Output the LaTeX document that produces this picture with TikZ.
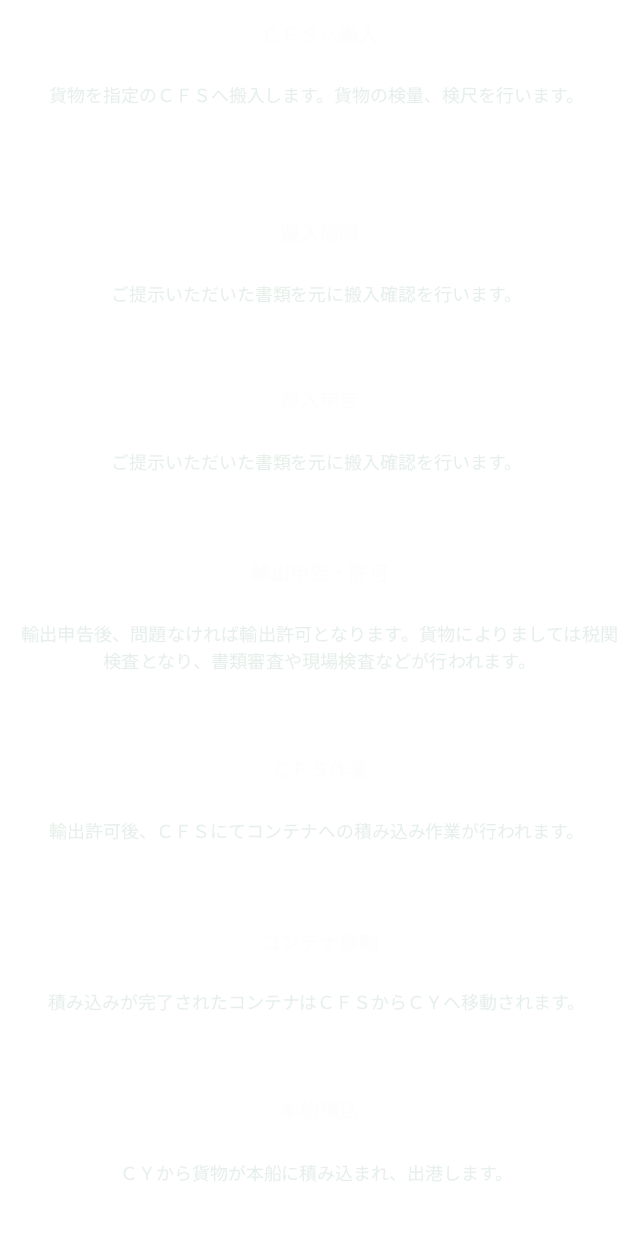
\documentclass[tikz,border=0pt]{standalone}
\usepackage{fontspec}
\newfontfamily\jp{Noto Sans CJK JP}
\definecolor{headc}{RGB}{252,253,252}
\definecolor{bodyc}{RGB}{230,239,234}
\begin{document}
\begin{tikzpicture}[x=0.75pt,y=-0.75pt,
  head/.style={text=headc,font=\jp\fontsize{14.7}{18}\selectfont,inner sep=0pt,anchor=center},
  body/.style={text=bodyc,font=\jp\fontsize{13.45}{20.25}\selectfont,inner sep=0pt,anchor=center,align=center}]
\fill[white] (0,0) rectangle (640,1239);
\useasboundingbox (0,0) rectangle (640,1239);
\node[head] (h1) at (320,35) {ＣＦＳへ搬入};
\node[body] (b1) at (317,96) {貨物を指定のＣＦＳへ搬入します。貨物の検量、検尺を行います。};
\node[head] (h2) at (320,233) {搬入確認};
\node[body] (b2) at (317,295) {ご提示いただいた書類を元に搬入確認を行います。};
\node[head] (h3) at (320,400) {搬入申告};
\node[body] (b3) at (317,463) {ご提示いただいた書類を元に搬入確認を行います。};
\node[head] (h4) at (320,573) {輸出申告・許可};
\node[body,font=\jp\fontsize{13.65}{20.25}\selectfont] (b4) at (320,648) {輸出申告後、問題なければ輸出許可となります。貨物によりましては税関\\検査となり、書類審査や現場検査などが行われます。};
\node[head] (h5) at (320,770) {ＣＦＳ作業};
\node[body] (b5) at (317,832) {輸出許可後、ＣＦＳにてコンテナへの積み込み作業が行われます。};
\node[head] (h6) at (320,943) {コンテナ移動};
\node[body] (b6) at (317,1003) {積み込みが完了されたコンテナはＣＦＳからＣＹへ移動されます。};
\node[head] (h7) at (320,1110) {本船積込};
\node[body] (b7) at (317,1174) {ＣＹから貨物が本船に積み込まれ、出港します。};
\end{tikzpicture}
\end{document}
